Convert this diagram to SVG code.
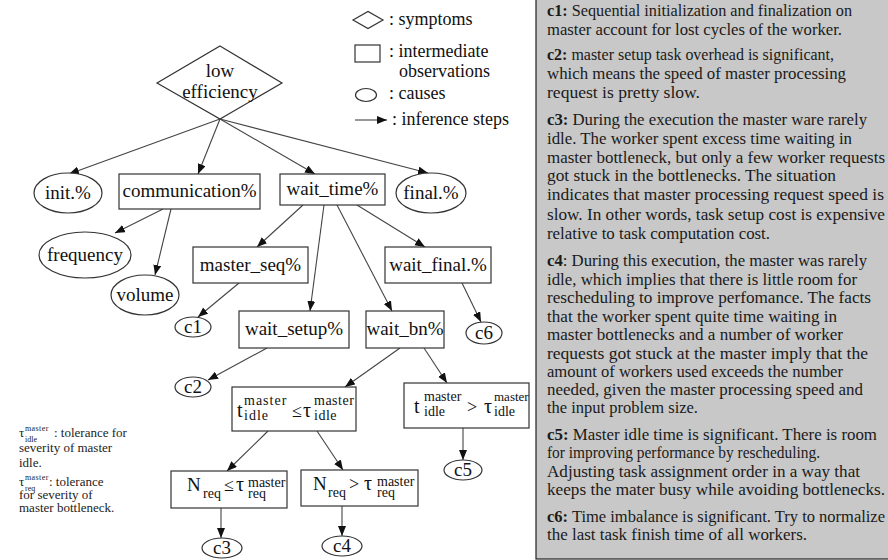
<svg xmlns="http://www.w3.org/2000/svg" width="888" height="560" viewBox="0 0 888 560">
<defs>
<style>
.n{fill:#fff;stroke:#333;stroke-width:1.2}
.t{font-family:"Liberation Serif","Times New Roman",serif;font-size:19px;fill:#111;text-anchor:middle}
.lg{font-family:"Liberation Serif","Times New Roman",serif;font-size:18px;fill:#111}
.m{font-family:"Liberation Serif","Times New Roman",serif;fill:#111}
.e{stroke:#444;stroke-width:1.1;fill:none;marker-end:url(#ah)}
.p{font-family:"Liberation Serif","Times New Roman",serif;font-size:16px;fill:#1a1a1a}
.b{font-weight:bold}
.s{font-family:"Liberation Serif","Times New Roman",serif;font-size:13px;fill:#222}
</style>
<marker id="ah" markerUnits="userSpaceOnUse" markerWidth="11" markerHeight="9" refX="10" refY="4" orient="auto">
<path d="M0,0 L10,4 L0,8 z" fill="#111"/>
</marker>
</defs>
<rect width="888" height="560" fill="#fff"/>

<g id="legend">
<polygon class="n" points="353,20 368,11.5 383,20 368,28.5"/>
<text class="lg" x="389" y="25">: symptoms</text>
<rect class="n" x="355" y="45" width="25" height="17"/>
<text class="lg" x="389" y="57">: intermediate</text>
<text class="lg" x="399" y="77">observations</text>
<ellipse class="n" cx="366" cy="95" rx="10.5" ry="6.5"/>
<text class="lg" x="389" y="99">: causes</text>
<line class="e" x1="355" y1="120" x2="387" y2="120"/>
<text class="lg" x="392" y="125">: inference steps</text>
</g>

<g id="connectors">
<line class="e" x1="220" y1="119" x2="69" y2="174"/>
<line class="e" x1="220" y1="119" x2="198" y2="174"/>
<line class="e" x1="220" y1="119" x2="315" y2="174"/>
<line class="e" x1="220" y1="119" x2="428" y2="173"/>
<line class="e" x1="163" y1="209" x2="115" y2="233"/>
<line class="e" x1="171" y1="209" x2="155" y2="275"/>
<line class="e" x1="303" y1="205" x2="257" y2="247"/>
<line class="e" x1="324" y1="205" x2="310" y2="311"/>
<line class="e" x1="337" y1="205" x2="392" y2="311"/>
<line class="e" x1="357" y1="205" x2="425" y2="247"/>
<line class="e" x1="239" y1="283" x2="198" y2="317"/>
<line class="e" x1="462" y1="283" x2="481" y2="322"/>
<line class="e" x1="267" y1="348" x2="208" y2="380"/>
<line class="e" x1="400" y1="348" x2="345" y2="387"/>
<line class="e" x1="424" y1="348" x2="447" y2="383"/>
<line class="e" x1="268" y1="431" x2="227" y2="471"/>
<line class="e" x1="317" y1="431" x2="343" y2="470"/>
<line class="e" x1="463" y1="428" x2="463" y2="460"/>
<line class="e" x1="221" y1="508" x2="221" y2="538"/>
<line class="e" x1="342" y1="506" x2="342" y2="536"/>
</g>

<g id="low_efficiency">
<polygon class="n" points="220,46 282,83 220,119 157,83"/>
<text class="t" x="220" y="77">low</text>
<text class="t" x="220" y="98">efficiency</text>
</g>
<g id="init">
<ellipse class="n" cx="68" cy="193" rx="34" ry="20"/>
<text class="t" x="68" y="199">init.%</text>
</g>
<g id="communication">
<rect class="n" x="119" y="174" width="141" height="35"/>
<text class="t" x="189.5" y="197">communication%</text>
</g>
<g id="wait_time">
<rect class="n" x="280" y="174" width="105" height="31"/>
<text class="t" x="332.5" y="195">wait_time%</text>
</g>
<g id="final">
<ellipse class="n" cx="431" cy="193" rx="35" ry="20"/>
<text class="t" x="431" y="199">final.%</text>
</g>
<g id="frequency">
<ellipse class="n" cx="85" cy="255" rx="46" ry="23"/>
<text class="t" x="85" y="261">frequency</text>
</g>
<g id="volume">
<ellipse class="n" cx="145" cy="295" rx="34" ry="20"/>
<text class="t" x="145" y="301">volume</text>
</g>
<g id="master_seq">
<rect class="n" x="193" y="247" width="115" height="36"/>
<text class="t" x="250.5" y="271">master_seq%</text>
</g>
<g id="wait_final">
<rect class="n" x="385" y="247" width="106" height="36"/>
<text class="t" x="438" y="271">wait_final.%</text>
</g>
<g id="c1">
<ellipse class="n" cx="193" cy="327" rx="18" ry="10"/>
<text class="t" x="193" y="333">c1</text>
</g>
<g id="wait_setup">
<rect class="n" x="239" y="311" width="110" height="37"/>
<text class="t" x="294" y="335">wait_setup%</text>
</g>
<g id="wait_bn">
<rect class="n" x="366" y="311" width="78" height="37"/>
<text class="t" x="405" y="335">wait_bn%</text>
</g>
<g id="c6">
<ellipse class="n" cx="484" cy="333" rx="18" ry="11"/>
<text class="t" x="484" y="339">c6</text>
</g>
<g id="c2">
<ellipse class="n" cx="193" cy="387" rx="18" ry="10"/>
<text class="t" x="193" y="393">c2</text>
</g>
<g id="t_le">
<rect class="n" x="232" y="387" width="124" height="44"/>
<text class="m"><tspan x="237" y="417" font-size="20">t</tspan><tspan x="244" y="405" font-size="14" letter-spacing="1">master</tspan><tspan x="244" y="420" font-size="14" letter-spacing="1">idle</tspan><tspan x="292" y="417" font-size="18">≤</tspan><tspan x="303" y="417" font-size="20">τ</tspan><tspan x="314" y="405" font-size="14" letter-spacing="0.5">master</tspan><tspan x="314" y="420" font-size="14" letter-spacing="0.5">idle</tspan></text>
</g>
<g id="t_gt">
<rect class="n" x="404" y="383" width="125" height="45"/>
<text class="m"><tspan x="414" y="413" font-size="20">t</tspan><tspan x="424" y="401" font-size="14">master</tspan><tspan x="424" y="416" font-size="14">idle</tspan><tspan x="467" y="413" font-size="18">&gt;</tspan><tspan x="484" y="413" font-size="20">τ</tspan><tspan x="494" y="401" font-size="13">master</tspan><tspan x="494" y="416" font-size="14">idle</tspan></text>
</g>
<g id="c5">
<ellipse class="n" cx="463" cy="470" rx="19" ry="10"/>
<text class="t" x="463" y="476">c5</text>
</g>
<g id="n_le">
<rect class="n" x="171" y="471" width="116" height="37"/>
<text class="m"><tspan x="187" y="491" font-size="19">N</tspan><tspan x="203" y="498" font-size="14">req</tspan><tspan x="224" y="491" font-size="18">≤</tspan><tspan x="236" y="491" font-size="20">τ</tspan><tspan x="248" y="487" font-size="14">master</tspan><tspan x="248" y="498" font-size="14">req</tspan></text>
</g>
<g id="n_gt">
<rect class="n" x="301" y="470" width="117" height="36"/>
<text class="m"><tspan x="313" y="490" font-size="19">N</tspan><tspan x="328" y="497" font-size="14">req</tspan><tspan x="349" y="490" font-size="18">&gt;</tspan><tspan x="364" y="490" font-size="20">τ</tspan><tspan x="377" y="486" font-size="14">master</tspan><tspan x="377" y="497" font-size="14">req</tspan></text>
</g>
<g id="c3">
<ellipse class="n" cx="222" cy="548" rx="20" ry="10"/>
<text class="t" x="222" y="554">c3</text>
</g>
<g id="c4">
<ellipse class="n" cx="342" cy="546" rx="20" ry="10"/>
<text class="t" x="342" y="552">c4</text>
</g>

<g id="tolerance_notes">
<text class="s"><tspan x="19" y="437">τ</tspan><tspan x="25" y="431" font-size="8" letter-spacing="0.4">master</tspan><tspan x="25" y="442" font-size="8">idle</tspan><tspan x="54" y="437">: tolerance for</tspan></text>
<text class="s" x="19" y="452">severity of master</text>
<text class="s" x="19" y="467">idle.</text>
<text class="s"><tspan x="19" y="486">τ</tspan><tspan x="25" y="480" font-size="8" letter-spacing="0.4">master</tspan><tspan x="25" y="491" font-size="8">req</tspan><tspan x="49" y="486">: tolerance</tspan></text>
<text class="s" x="19" y="499">for severity of</text>
<text class="s" x="19" y="512">master bottleneck.</text>
</g>

<g id="causes_panel">
<rect x="536" y="-2" width="354" height="561" fill="#c8c8c8" stroke="#222" stroke-width="1.2"/>
<text class="p" x="547" y="16" textLength="305" lengthAdjust="spacingAndGlyphs"><tspan class="b">c1:</tspan> Sequential initialization and finalization on</text>
<text class="p" x="547" y="35" textLength="295" lengthAdjust="spacingAndGlyphs">master account for lost cycles of the worker.</text>
<text class="p" x="547" y="60" textLength="287" lengthAdjust="spacingAndGlyphs"><tspan class="b">c2:</tspan> master setup task overhead is significant,</text>
<text class="p" x="547" y="79" textLength="299" lengthAdjust="spacingAndGlyphs">which means the speed of master processing</text>
<text class="p" x="547" y="98" textLength="153" lengthAdjust="spacingAndGlyphs">request is pretty slow.</text>
<text class="p" x="547" y="125" textLength="320" lengthAdjust="spacingAndGlyphs"><tspan class="b">c3:</tspan> During the execution the master ware rarely</text>
<text class="p" x="547" y="144" textLength="305" lengthAdjust="spacingAndGlyphs">idle. The worker spent excess time waiting in</text>
<text class="p" x="547" y="163" textLength="338" lengthAdjust="spacingAndGlyphs">master bottleneck, but only a few worker requests</text>
<text class="p" x="547" y="181" textLength="289" lengthAdjust="spacingAndGlyphs">got stuck in the bottlenecks. The situation</text>
<text class="p" x="547" y="200" textLength="337" lengthAdjust="spacingAndGlyphs">indicates that master processing request speed is</text>
<text class="p" x="547" y="220" textLength="338" lengthAdjust="spacingAndGlyphs">slow. In other words, task setup cost is expensive</text>
<text class="p" x="547" y="239" textLength="223" lengthAdjust="spacingAndGlyphs">relative to task computation cost.</text>
<text class="p" x="547" y="266" textLength="320" lengthAdjust="spacingAndGlyphs"><tspan class="b">c4</tspan>: During this execution, the master was rarely</text>
<text class="p" x="547" y="285" textLength="310" lengthAdjust="spacingAndGlyphs">idle, which implies that there is little room for</text>
<text class="p" x="547" y="303" textLength="324" lengthAdjust="spacingAndGlyphs">rescheduling to improve perfomance. The facts</text>
<text class="p" x="547" y="322" textLength="290" lengthAdjust="spacingAndGlyphs">that the worker spent quite time waiting in</text>
<text class="p" x="547" y="340" textLength="296" lengthAdjust="spacingAndGlyphs">master bottlenecks and a number of worker</text>
<text class="p" x="547" y="359" textLength="321" lengthAdjust="spacingAndGlyphs">requests got stuck at the master imply that the</text>
<text class="p" x="547" y="377" textLength="296" lengthAdjust="spacingAndGlyphs">amount of workers used exceeds the number</text>
<text class="p" x="547" y="395" textLength="316" lengthAdjust="spacingAndGlyphs">needed, given the master processing speed and</text>
<text class="p" x="547" y="413" textLength="151" lengthAdjust="spacingAndGlyphs">the input problem size.</text>
<text class="p" x="547" y="440" textLength="330" lengthAdjust="spacingAndGlyphs"><tspan class="b">c5:</tspan> Master idle time is significant. There is room</text>
<text class="p" x="547" y="458" textLength="273" lengthAdjust="spacingAndGlyphs">for improving performance by rescheduling.</text>
<text class="p" x="547" y="477" textLength="313" lengthAdjust="spacingAndGlyphs">Adjusting task assignment order in a way that</text>
<text class="p" x="547" y="495" textLength="338" lengthAdjust="spacingAndGlyphs">keeps the mater busy while avoiding bottlenecks.</text>
<text class="p" x="547" y="522" textLength="338" lengthAdjust="spacingAndGlyphs"><tspan class="b">c6:</tspan> Time imbalance is significant. Try to normalize</text>
<text class="p" x="547" y="540" textLength="260" lengthAdjust="spacingAndGlyphs">the last task finish time of all workers.</text>
</g>
</svg>
